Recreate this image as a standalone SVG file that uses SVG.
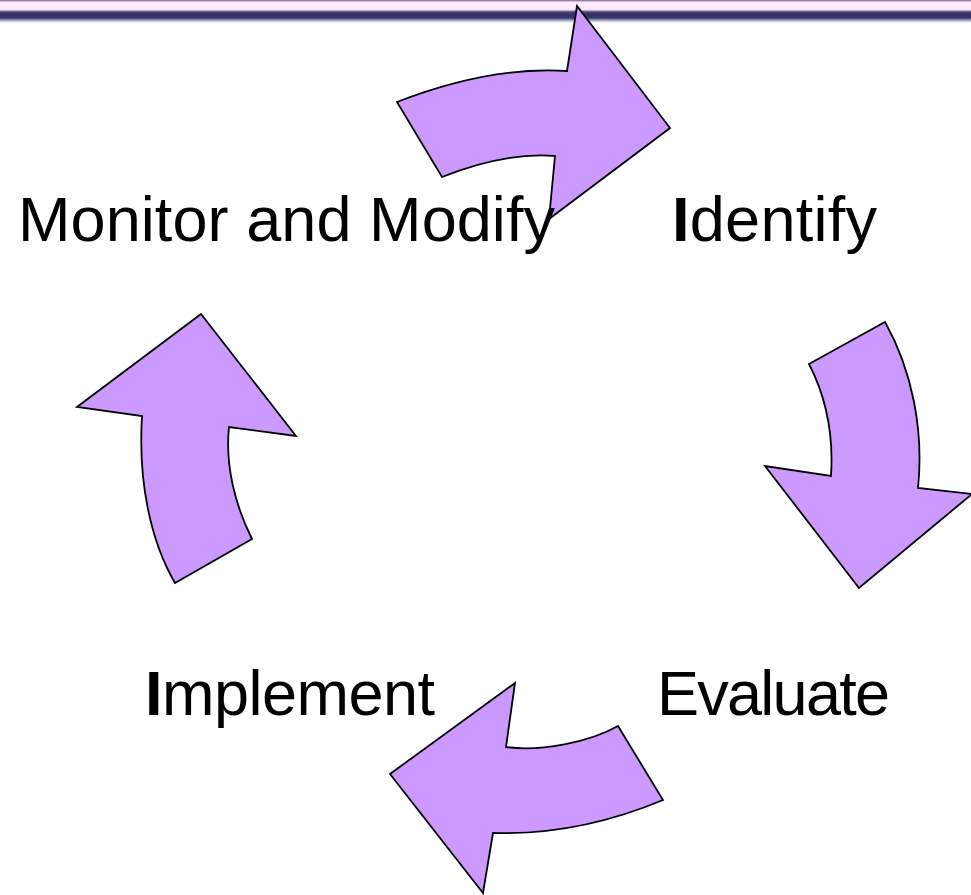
<svg xmlns="http://www.w3.org/2000/svg" width="971" height="895" viewBox="0 0 971 895">
  <defs>
    <linearGradient id="bar" x1="0" y1="0" x2="0" y2="1">
      <stop offset="0" stop-color="#7a6488"/>
      <stop offset="0.09" stop-color="#f4def4"/>
      <stop offset="0.12" stop-color="#fbeefb"/>
      <stop offset="0.42" stop-color="#f8e6f8"/>
      <stop offset="0.52" stop-color="#4a4676"/>
      <stop offset="0.6" stop-color="#333263"/>
      <stop offset="0.78" stop-color="#36356a"/>
      <stop offset="0.9" stop-color="#b8b6cc"/>
      <stop offset="1" stop-color="#ffffff"/>
    </linearGradient>
  </defs>
  <style>
    .arrow { fill: #cc99ff; stroke: #000000; stroke-width: 1.8; stroke-linejoin: miter; }
    .label { font-family: "Liberation Sans", Arial, sans-serif; font-size: 63px; fill: #000000; }
    .cap { font-weight: bold; }
  </style>
  <rect x="0" y="0" width="971" height="895" fill="#ffffff"/>
  <rect x="0" y="0" width="971" height="23" fill="url(#bar)"/>

  <g id="connectors">
    <path id="arrow-monitor-identify" class="arrow" d="M 397 102 L 442 177 Q 505 152 555 156 L 549 219 L 670 128 L 577 6 L 567 71 Q 490 66 397 102 Z"/>
    <path id="arrow-identify-evaluate" class="arrow" d="M 809 364 L 885 322 C 912 370 924 430 918 488 L 972 494 L 859 588 L 765 466 L 831 476 C 834 430 825 395 809 364 Z"/>
    <path id="arrow-evaluate-implement" class="arrow" d="M 618 726 L 663 800 C 620 818 560 835 493 833 L 483 893 L 390 774 L 515 683 L 506 747 C 540 752 590 742 618 726 Z"/>
    <path id="arrow-implement-monitor" class="arrow" d="M 252 539 L 175 583 C 150 540 138 480 142 416 L 77 407 L 201 314 L 296 436 L 229 427 C 225 465 235 505 252 539 Z"/>
  </g>

  <g id="node-monitor">
    <text class="label" x="18" y="241" textLength="537" lengthAdjust="spacing">Monitor and Modify</text>
  </g>
  <g id="node-identify">
    <text class="label" x="672" y="241" textLength="205" lengthAdjust="spacing"><tspan class="cap">I</tspan>dentify</text>
  </g>
  <g id="node-evaluate">
    <text class="label" x="657" y="715" textLength="233" lengthAdjust="spacing">Evaluate</text>
  </g>
  <g id="node-implement">
    <text class="label" x="145" y="715" textLength="290" lengthAdjust="spacing"><tspan class="cap">I</tspan>mplement</text>
  </g>
</svg>
